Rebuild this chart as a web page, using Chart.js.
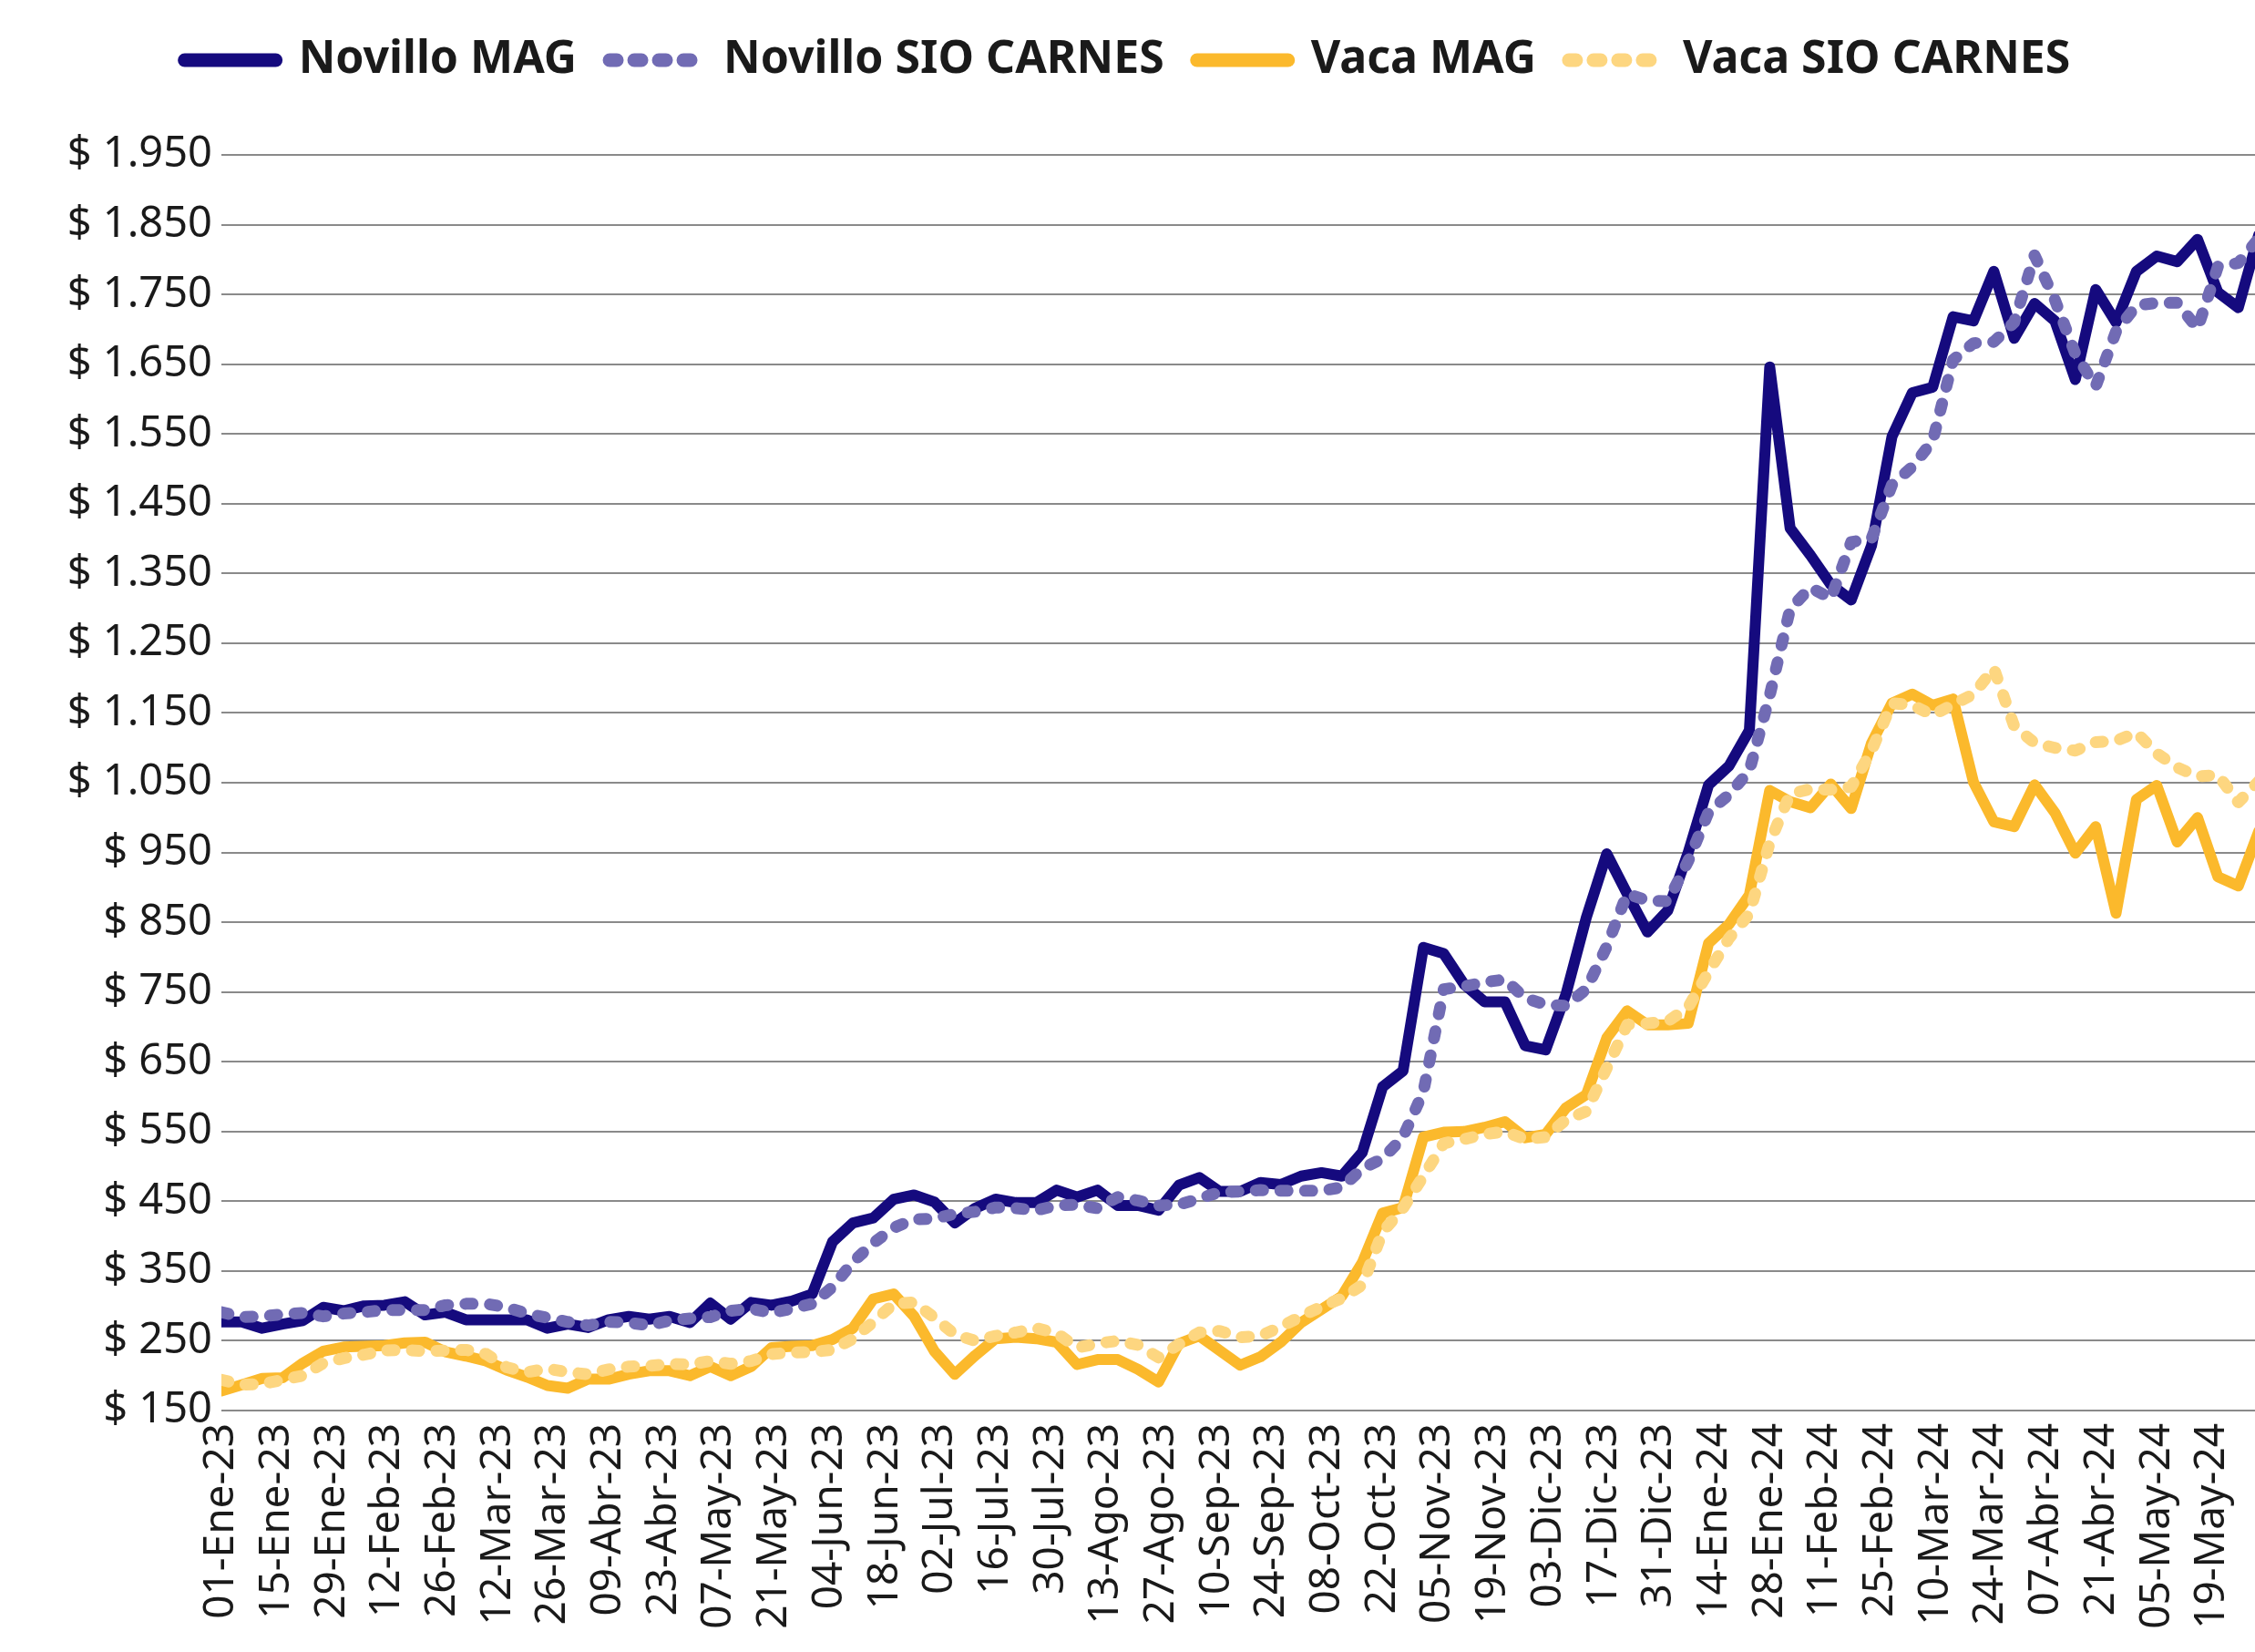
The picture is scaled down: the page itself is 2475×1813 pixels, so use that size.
<!DOCTYPE html>
<html>
<head>
<meta charset="utf-8">
<script src="https://cdn.jsdelivr.net/npm/chart.js@4.4.1/dist/chart.umd.min.js"></script>
<style>
html,body{margin:0;padding:0;background:#ffffff;overflow:hidden}
#wrap{width:2475px;height:1813px;position:relative}
</style>
</head>
<body>
<div id="wrap"><canvas id="c"></canvas></div>
<script>
// ---- tick labels (every 14 days) ----
const tickLabels = ['01-Ene-23','15-Ene-23','29-Ene-23','12-Feb-23','26-Feb-23','12-Mar-23','26-Mar-23','09-Abr-23','23-Abr-23','07-May-23','21-May-23','04-Jun-23','18-Jun-23','02-Jul-23','16-Jul-23','30-Jul-23','13-Ago-23','27-Ago-23','10-Sep-23','24-Sep-23','08-Oct-23','22-Oct-23','05-Nov-23','19-Nov-23','03-Dic-23','17-Dic-23','31-Dic-23','14-Ene-24','28-Ene-24','11-Feb-24','25-Feb-24','10-Mar-24','24-Mar-24','07-Abr-24','21-Abr-24','05-May-24','19-May-24'];

// ---- series ----
const novilloMAG = [277,277,268,274,279,298,293,300,301,306,
  287,291,280,280,280,280,268,274,269,280,
  285,281,285,276,304,281,305,301,307,317,
  392,419,426,453,459,449,419,440,453,448,
  448,466,456,466,444,444,437,473,484,464,
  464,477,474,486,491,486,520,614,637,814,
  805,761,736,736,673,667,747,857,948,891,
  836,867,950,1047,1074,1125,1646,1415,1376,1334,
  1312,1390,1546,1609,1617,1718,1712,1783,1687,1737,
  1712,1628,1757,1710,1783,1805,1797,1829,1753,1731,
  1835];
const novilloSIO = [291,284,285,288,290,285,289,291,294,294,
  294,301,303,303,298,289,283,277,272,277,
  276,272,279,282,284,293,296,290,296,303,
  327,363,390,412,424,425,432,435,441,440,
  437,444,445,440,456,451,444,445,454,463,
  464,466,465,465,465,470,497,511,542,607,
  754,758,764,768,741,732,730,754,815,891,
  881,880,938,1008,1033,1067,1175,1299,1330,1314,
  1395,1400,1477,1503,1540,1656,1680,1682,1710,1806,
  1742,1665,1618,1697,1734,1738,1738,1701,1790,1795,
  1830];
const vacaMAG = [178,187,196,197,218,235,241,242,243,247,
  248,234,228,221,208,198,186,182,195,195,
  202,207,207,200,213,200,213,240,242,243,
  252,268,310,317,285,235,202,229,253,255,
  253,248,216,223,223,209,191,246,257,236,
  215,227,248,276,295,314,362,433,441,542,
  549,550,556,564,541,546,584,603,684,723,
  703,703,705,820,847,889,1039,1023,1014,1048,
  1013,1107,1164,1177,1161,1170,1051,994,987,1047,
  1007,949,987,863,1026,1046,965,1000,915,902,
  980];
const vacaSIO = [194,187,188,194,200,218,225,230,236,237,
  235,236,237,231,212,205,210,205,202,209,
  213,214,217,216,221,217,221,231,233,234,
  237,253,277,303,305,283,259,250,257,262,
  268,261,240,246,250,244,226,245,262,264,
  255,257,270,285,299,311,330,406,440,486,
  533,539,546,550,539,542,567,579,641,703,
  705,708,728,779,827,862,964,1034,1041,1040,
  1044,1096,1164,1161,1147,1162,1177,1214,1131,1107,
  1100,1096,1108,1110,1122,1092,1072,1059,1061,1022,
  1052];

const seriesNames = ['Novillo MAG','Novillo SIO CARNES','Vaca MAG','Vaca SIO CARNES'];

// ---- styling / layout ----
const FONT = "'Noto Sans', 'DejaVu Sans', sans-serif";
const TEXT = '#1a1a1a';
const DOTS = [8, 19];
const LABEL_STEP_DAYS = 14;
const INDEX_MAX = 99.82;   // visible span in data points
const DAYS_MAX = 514.8;    // visible span in days

function toPoints(arr){ return arr.map((v,i)=>({x:i,y:v})); }
function money(v){
  return '$ ' + (v >= 1000 ? Math.floor(v/1000) + '.' + String(v % 1000).padStart(3,'0') : v);
}

const datasets = [
  {label: seriesNames[0], data: toPoints(novilloMAG), borderColor:'#150A7E', backgroundColor:'#150A7E', borderDash:[], borderWidth:12, order:4},
  {label: seriesNames[1], data: toPoints(novilloSIO), borderColor:'#716BB4', backgroundColor:'#716BB4', borderDash:DOTS, borderWidth:13, order:3},
  {label: seriesNames[2], data: toPoints(vacaMAG), borderColor:'#FBB92C', backgroundColor:'#FBB92C', borderDash:[], borderWidth:12, order:2},
  {label: seriesNames[3], data: toPoints(vacaSIO), borderColor:'#FDD680', backgroundColor:'#FDD680', borderDash:DOTS, borderWidth:13, order:1}
].map(d => Object.assign(d, {
  pointRadius: 0, pointHoverRadius: 0, tension: 0,
  borderCapStyle: 'round', borderJoinStyle: 'round', fill: false, xAxisID: 'x', yAxisID: 'y'
}));

new Chart(document.getElementById('c'), {
  type: 'line',
  data: { datasets },
  options: {
    responsive: true,
    maintainAspectRatio: false,
    devicePixelRatio: 1,
    animation: false,
    layout: { padding: { top: 5, left: 0, right: 0, bottom: 0 } },
    plugins: {
      tooltip: { enabled: false },
      legend: {
        position: 'top',
        labels: {
          usePointStyle: true,
          pointStyleWidth: 100,
          padding: 36,
          color: TEXT,
          font: { family: FONT, size: 50, weight: 'bold' },
          sort: (a, b) => a.datasetIndex - b.datasetIndex,
          generateLabels(chart) {
            const items = Chart.defaults.plugins.legend.labels.generateLabels(chart);
            items.forEach(it => {
              const ds = chart.data.datasets[it.datasetIndex];
              it.pointStyle = 'line';
              it.lineDash = ds.borderDash;
              it.lineWidth = 15;
              it.lineCap = 'round';
              it.strokeStyle = ds.borderColor;
              it.fillStyle = ds.borderColor;
            });
            return items;
          }
        }
      }
    },
    scales: {
      x: { type: 'linear', display: false, min: 0, max: INDEX_MAX },
      xd: {
        type: 'linear', position: 'bottom', min: 0, max: DAYS_MAX,
        grid: { display: false, drawTicks: false },
        border: { display: false },
        ticks: {
          stepSize: LABEL_STEP_DAYS, includeBounds: false, autoSkip: false,
          maxRotation: 90, minRotation: 90, padding: 14,
          color: TEXT, font: { family: FONT, size: 46 },
          callback: v => tickLabels[Math.round(v / LABEL_STEP_DAYS)] ?? ''
        },
        afterFit(s) { s.height = 265; s.paddingLeft = 0; s.paddingRight = 0; }
      },
      gap: {
        type: 'linear', position: 'top', display: true,
        grid: { display: false, drawTicks: false }, border: { display: false },
        ticks: { display: false },
        afterFit(s) { s.height = 69; }
      },
      y: {
        type: 'linear', position: 'left', min: 150, max: 1950,
        grid: { color: '#8a8a8a', lineWidth: 2, drawTicks: false },
        border: { display: false },
        ticks: {
          stepSize: 100, padding: 10, color: TEXT,
          font: { family: FONT, size: 47 },
          callback: v => money(v)
        },
        afterFit(s) { s.width = 243; }
      }
    }
  }
});
</script>
</body>
</html>
